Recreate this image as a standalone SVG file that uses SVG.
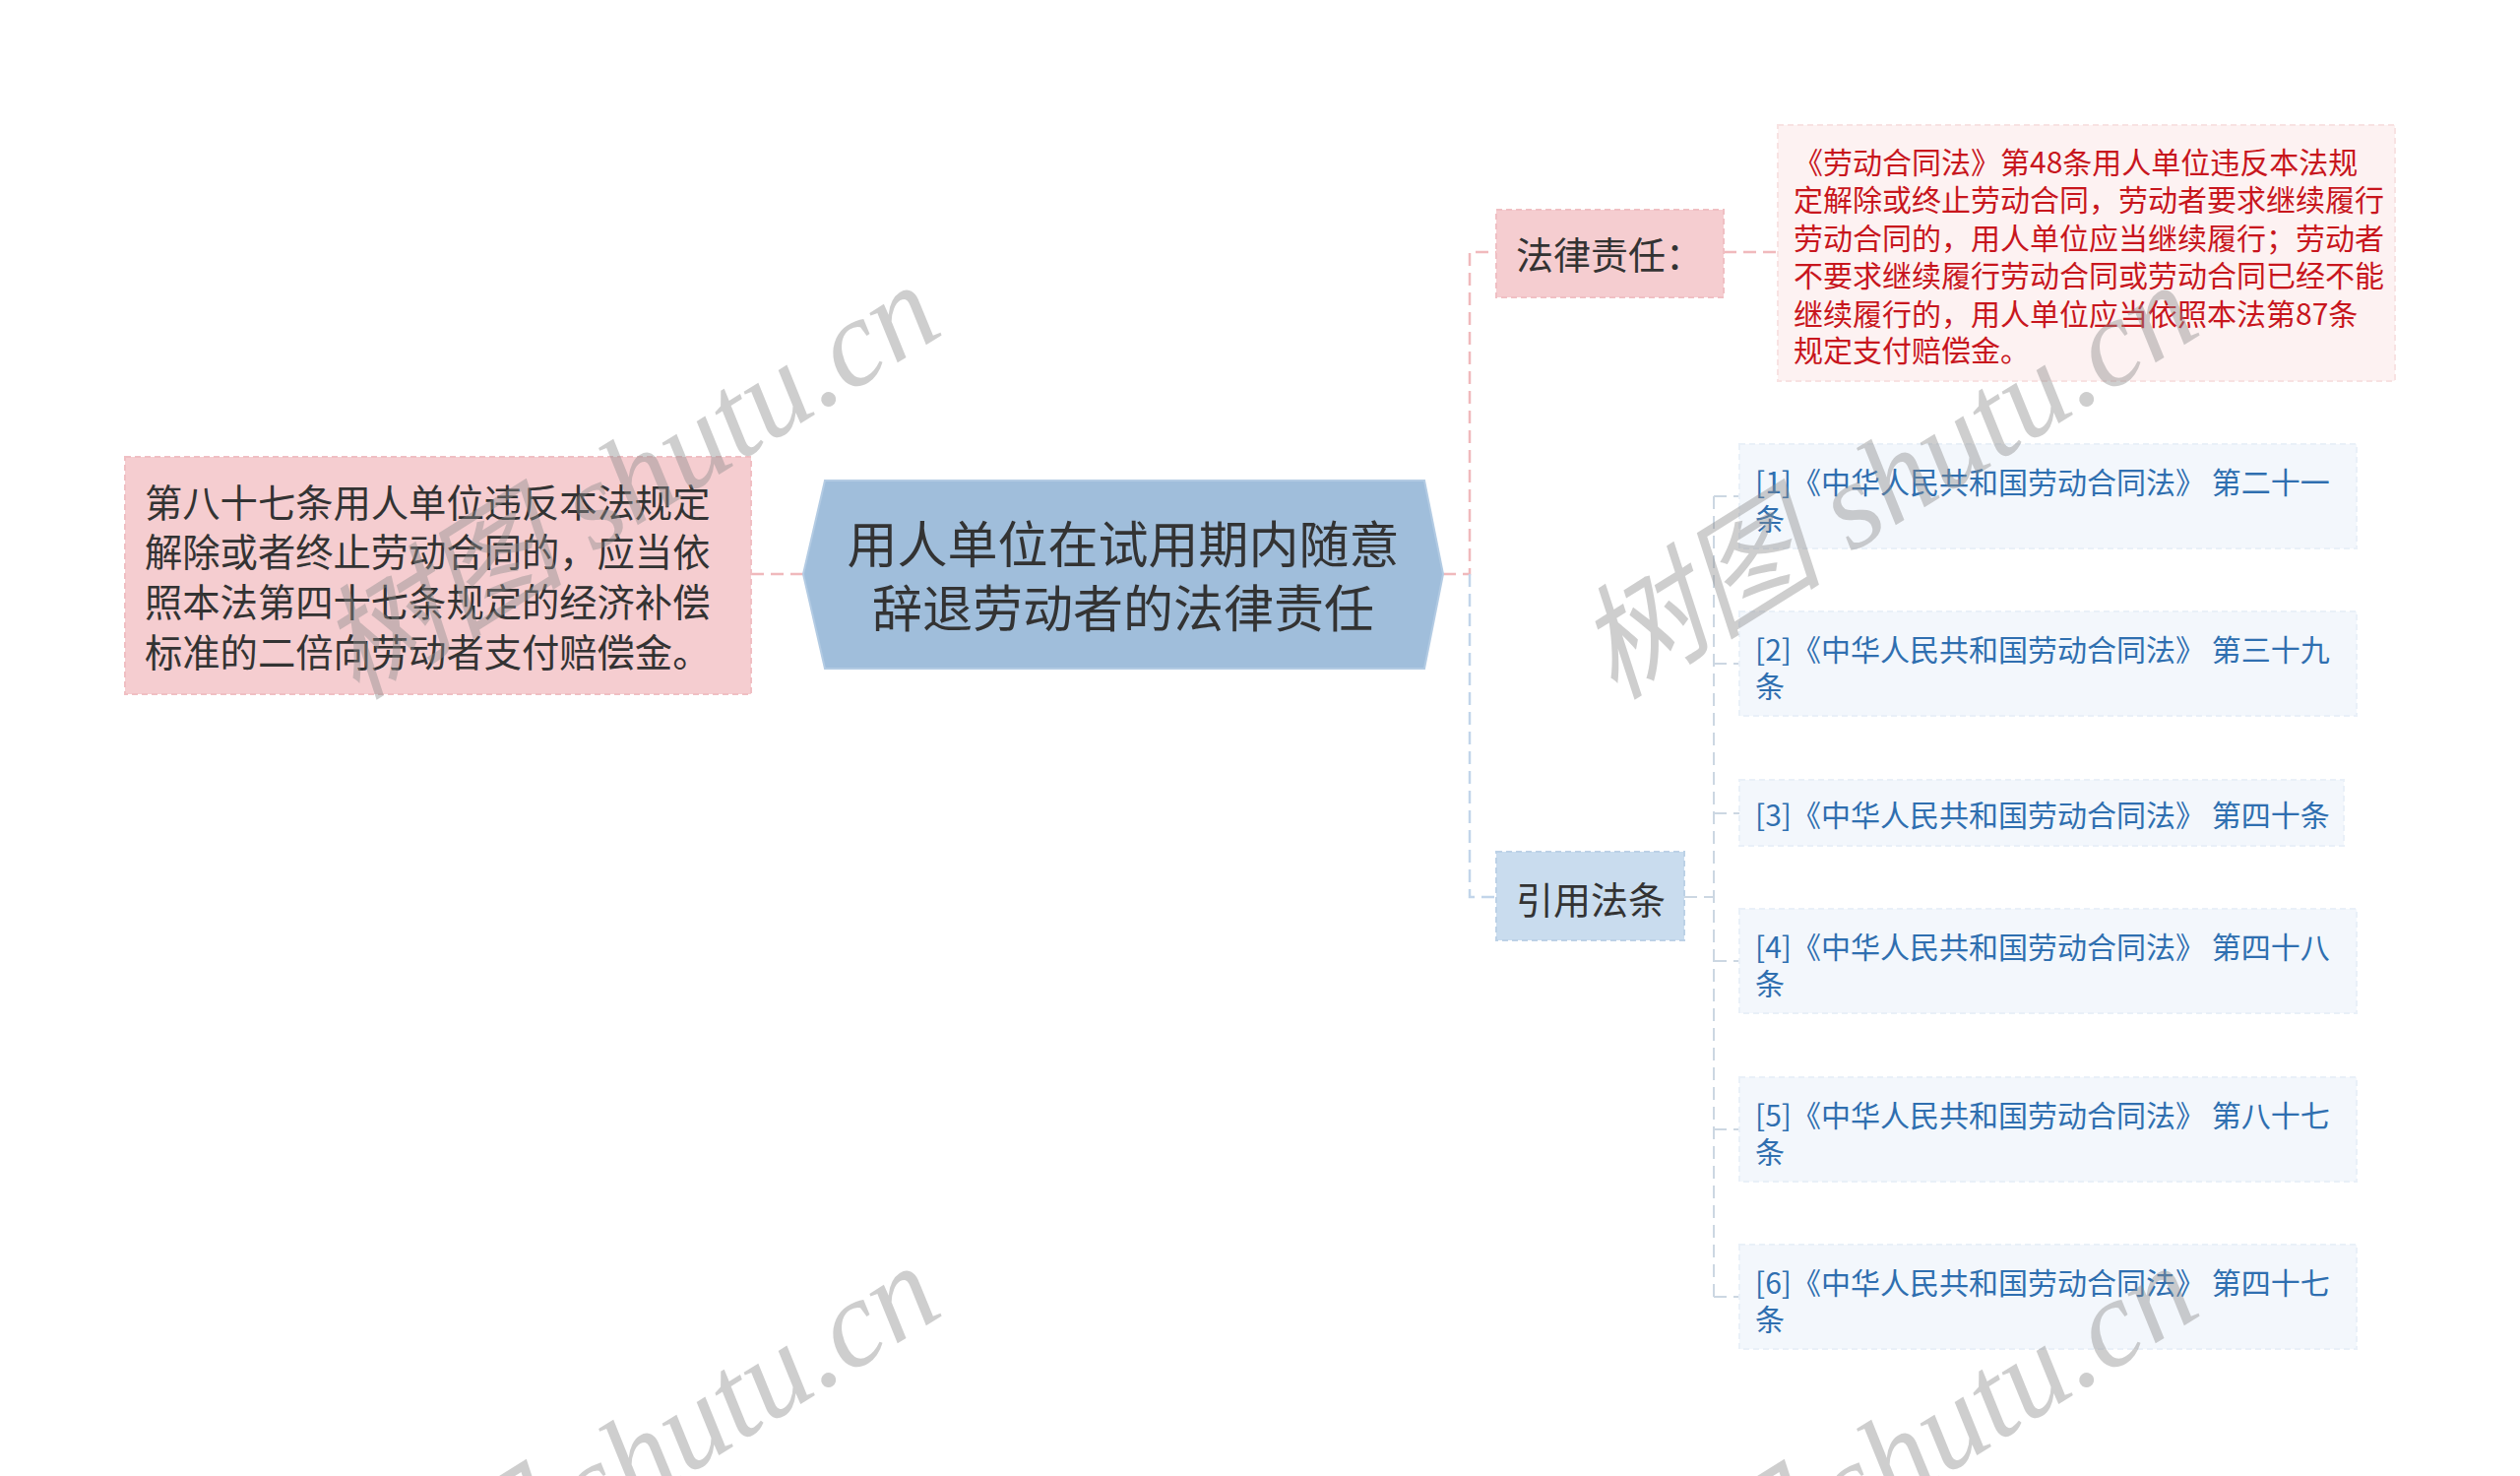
<svg xmlns="http://www.w3.org/2000/svg" width="2560" height="1499" viewBox="0 0 2560 1499">
<style>
text{font-family:"Noto Sans CJK SC","Noto Sans",sans-serif;dominant-baseline:central}
.dark{fill:#333333}
.red{fill:#c8161d;font-size:30px}
.blue{fill:#2f6fb0;font-size:30px}
.pinkbox{fill:#f5cdd0;stroke:#f0bfc3;stroke-width:2;stroke-dasharray:6 4}
.bluebox{fill:#c9dcee;stroke:#bcd1e6;stroke-width:2;stroke-dasharray:6 4}
.item{fill:#f3f7fc;stroke:#e9f0f8;stroke-width:2;stroke-dasharray:6 4}
.redbox{fill:#fdf2f2;stroke:#f8e2e2;stroke-width:2;stroke-dasharray:6 4}
.cp{fill:none;stroke:#f0b9bc;stroke-width:2.5;stroke-dasharray:13 7}
.cb{fill:none;stroke:#c2d5ea;stroke-width:2.5;stroke-dasharray:13 7}
.cg{fill:none;stroke:#ccd7e2;stroke-width:2;stroke-dasharray:13 7}
.wm{fill:#8c8c8c;opacity:0.42;font-size:126px;font-style:italic;dominant-baseline:auto;font-family:"Liberation Serif","Noto Sans CJK SC",serif}
</style>

<g id="connectors">
<path class="cp" d="M763 583 H816"/>
<path class="cp" d="M1466 583 H1493 V256 H1520"/>
<path class="cb" d="M1493 583 V911 H1520"/>
<path class="cp" d="M1751 256 H1806"/>
<path class="cg" d="M1711 911 H1741"/>
<path class="cg" d="M1741 504 V1317"/>
<path class="cg" d="M1741 504 H1767 M1741 674 H1767 M1741 826 H1767 M1741 976 H1767 M1741 1147 H1767 M1741 1317 H1767"/>
</g>

<g id="node-left">
<rect class="pinkbox" x="127" y="464" width="636" height="241"/>
<text class="dark" font-size="38.3" x="147" y="508">第八十七条用人单位违反本法规定</text>
<text class="dark" font-size="38.3" x="147" y="558">解除或者终止劳动合同的，应当依</text>
<text class="dark" font-size="38.3" x="147" y="609">照本法第四十七条规定的经济补偿</text>
<text class="dark" font-size="38.3" x="147" y="660">标准的二倍向劳动者支付赔偿金。</text>
</g>

<g id="node-center">
<path d="M838 488 H1447 L1466 583 L1447 679 H838 L816 583 Z" fill="#a0bedb" stroke="#b3cbe3" stroke-width="2"/>
<text class="dark" font-size="51" x="1141" y="550" text-anchor="middle">用人单位在试用期内随意</text>
<text class="dark" font-size="51" x="1141" y="615" text-anchor="middle">辞退劳动者的法律责任</text>
</g>

<g id="node-falv">
<rect class="pinkbox" x="1520" y="213" width="231" height="89"/>
<text class="dark" font-size="38" x="1540" y="256">法律责任：</text>
</g>

<g id="node-falv-detail">
<rect class="redbox" x="1806" y="127" width="627" height="260"/>
<text class="red" x="1822" y="163">《劳动合同法》第48条用人单位违反本法规</text>
<text class="red" x="1822" y="201">定解除或终止劳动合同，劳动者要求继续履行</text>
<text class="red" x="1822" y="240">劳动合同的，用人单位应当继续履行；劳动者</text>
<text class="red" x="1822" y="278">不要求继续履行劳动合同或劳动合同已经不能</text>
<text class="red" x="1822" y="317">继续履行的，用人单位应当依照本法第87条</text>
<text class="red" x="1822" y="354">规定支付赔偿金。</text>
</g>

<g id="node-yinyong">
<rect class="bluebox" x="1520" y="865" width="191" height="90"/>
<text class="dark" font-size="38" x="1540" y="911">引用法条</text>
</g>

<g id="item-1">
<rect class="item" x="1767" y="451" width="627" height="106"/>
<text class="blue" x="1783" y="488">[1]《中华人民共和国劳动合同法》 第二十一</text>
<text class="blue" x="1783" y="525">条</text>
</g>
<g id="item-2">
<rect class="item" x="1767" y="621" width="627" height="106"/>
<text class="blue" x="1783" y="658">[2]《中华人民共和国劳动合同法》 第三十九</text>
<text class="blue" x="1783" y="695">条</text>
</g>
<g id="item-3">
<rect class="item" x="1767" y="792" width="614" height="67"/>
<text class="blue" x="1783" y="826">[3]《中华人民共和国劳动合同法》 第四十条</text>
</g>
<g id="item-4">
<rect class="item" x="1767" y="923" width="627" height="106"/>
<text class="blue" x="1783" y="960">[4]《中华人民共和国劳动合同法》 第四十八</text>
<text class="blue" x="1783" y="997">条</text>
</g>
<g id="item-5">
<rect class="item" x="1767" y="1094" width="627" height="106"/>
<text class="blue" x="1783" y="1131">[5]《中华人民共和国劳动合同法》 第八十七</text>
<text class="blue" x="1783" y="1168">条</text>
</g>
<g id="item-6">
<rect class="item" x="1767" y="1264" width="627" height="106"/>
<text class="blue" x="1783" y="1301">[6]《中华人民共和国劳动合同法》 第四十七</text>
<text class="blue" x="1783" y="1338">条</text>
</g>

<g id="watermarks">
<text class="wm" transform="translate(362 712) rotate(-32)">树图 shutu.cn</text>
<text class="wm" transform="translate(1640 712) rotate(-32)">树图 shutu.cn</text>
<text class="wm" transform="translate(362 1708) rotate(-32)">树图 shutu.cn</text>
<text class="wm" transform="translate(1640 1708) rotate(-32)">树图 shutu.cn</text>
</g>
</svg>
